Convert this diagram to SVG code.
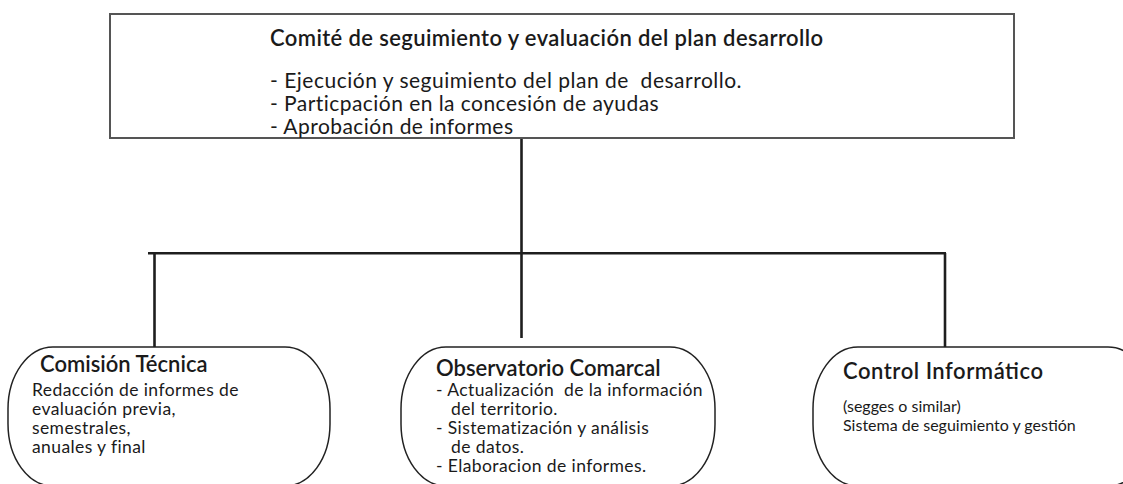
<svg xmlns="http://www.w3.org/2000/svg" width="1123" height="484" viewBox="0 0 1123 484">
<style>
text{font-family:Lato,"Noto Sans","Liberation Sans",sans-serif;fill:#1a1a1a;white-space:pre}
.t{font-size:22px;font-weight:600}
.b{font-size:21px;letter-spacing:0.45px}
.nt{font-size:22px;font-weight:600}
.nb{font-size:17.5px;letter-spacing:0.4px}
.nbs{font-size:16px}
.box{fill:#fff;stroke:#555;stroke-width:2}
.node{fill:#fff;stroke:#222;stroke-width:1.5}
.c{stroke:#1e1e1e;stroke-width:2.6;fill:none}
</style>
<rect width="1123" height="484" fill="#fff"/>
<g id="connectors">
<line class="c" x1="521.5" y1="138" x2="521.5" y2="338"/>
<line class="c" x1="148" y1="253.3" x2="946" y2="253.3"/>
<line class="c" x1="154.5" y1="253" x2="154.5" y2="347"/>
<line class="c" x1="945" y1="253" x2="945" y2="347"/>
</g>
<g id="comite">
<rect class="box" x="110" y="14" width="904" height="124"/>
<text class="t" x="270" y="46" textLength="553">Comité de seguimiento y evaluación del plan desarrollo</text>
<text class="b" x="270" y="88" textLength="472">- Ejecución y seguimiento del plan de  desarrollo.</text>
<text class="b" x="270" y="111">- Particpación en la concesión de ayudas</text>
<text class="b" x="270" y="134">- Aprobación de informes</text>
</g>
<g id="comision">
<rect class="node" x="8" y="347" width="322" height="139" rx="45" ry="62"/>
<text class="nt" x="40" y="372">Comisión Técnica</text>
<text class="nb" x="32" y="396">Redacción de informes de</text>
<text class="nb" x="32" y="415">evaluación previa,</text>
<text class="nb" x="32" y="434">semestrales,</text>
<text class="nb" x="32" y="453">anuales y final</text>
</g>
<g id="observatorio">
<rect class="node" x="401" y="347" width="314" height="139" rx="45" ry="62"/>
<text class="nt" x="436" y="376">Observatorio Comarcal</text>
<text class="nb" x="436" y="396">- Actualización  de la información</text>
<text class="nb" x="451" y="415">del territorio.</text>
<text class="nb" x="436" y="434">- Sistematización y análisis</text>
<text class="nb" x="451" y="453">de datos.</text>
<text class="nb" x="436" y="472">- Elaboracion de informes.</text>
</g>
<g id="control">
<rect class="node" x="813" y="347" width="340" height="139" rx="45" ry="62"/>
<text class="nt" x="843" y="379" textLength="200">Control Informático</text>
<text class="nbs" x="843" y="412">(segges o similar)</text>
<text class="nbs" x="843" y="431">Sistema de seguimiento y gestión</text>
</g>
</svg>
